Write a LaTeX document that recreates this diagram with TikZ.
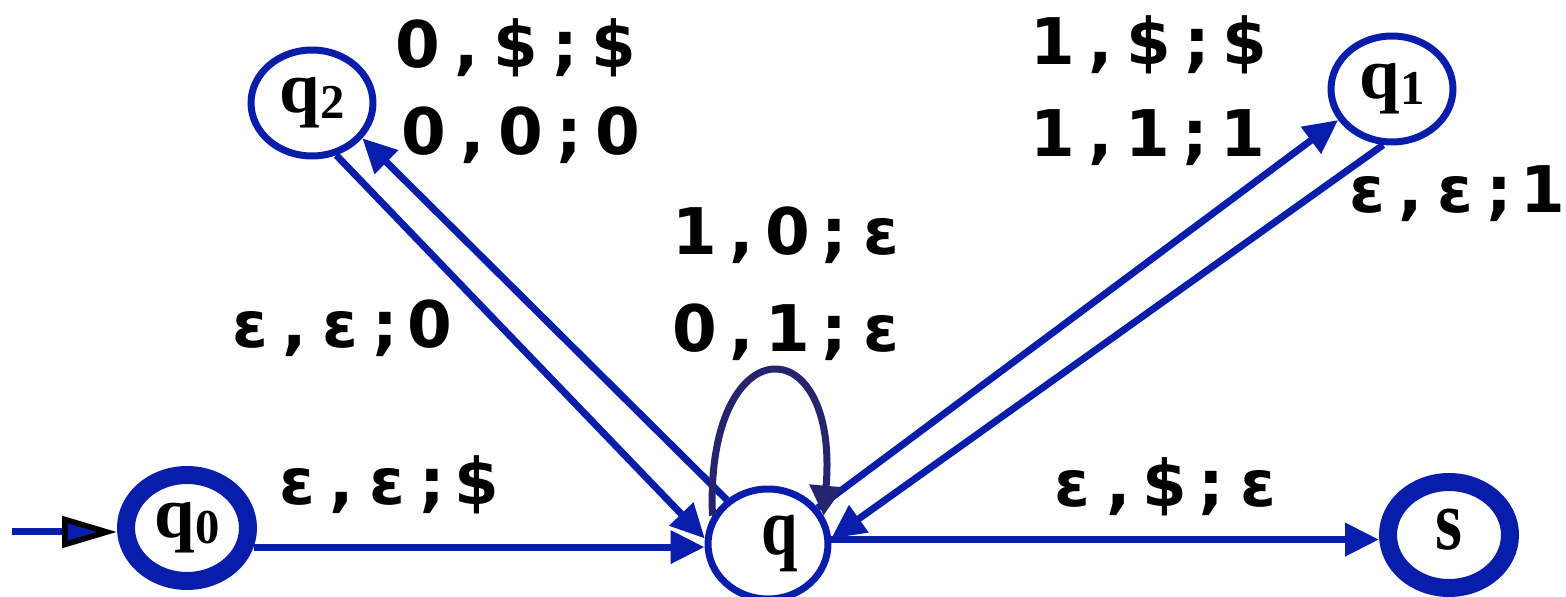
\documentclass[tikz,border=0pt]{standalone}
\usepackage{fontspec}
\usepackage{graphicx}
\usepackage{xcolor}
\setmainfont{Liberation Serif}
\newfontfamily\labfont{DejaVu Sans}
\usetikzlibrary{arrows.meta,shapes.geometric}
\definecolor{stateblue}{RGB}{8,30,170}
\definecolor{loopblue}{RGB}{38,36,110}
\newcommand\stsub[1]{\raisebox{-3.4pt}{\fontsize{27.7}{28}\selectfont #1}}
\newlength\chw
\newcommand\lbl[2][0.92cm]{\setlength\chw{#1}\lblloop#2\relax}
\def\lblloop#1{\ifx#1\relax\else\makebox[\chw]{#1}\expandafter\lblloop\fi}

\begin{document}
\begin{tikzpicture}[x=0.02cm,y=-0.02cm,
  state/.style={ellipse,draw=stateblue,line width=0.14cm,minimum width=2.44cm,minimum height=2.12cm,inner sep=0pt,font=\bfseries\fontsize{41.5}{42}\selectfont},
  bold state/.style={state,line width=0.36cm,minimum width=2.44cm,minimum height=2.12cm},
  edge/.style={draw=stateblue,line width=0.14cm,-{Triangle[length=0.68cm,width=0.64cm]}},
  lab/.style={anchor=base,inner sep=0pt,font=\labfont\bfseries\fontsize{36.6}{40}\selectfont}]
\useasboundingbox (0,0) rectangle (1566,597);

\node[bold state] (q0) at (187,528) {q\stsub{0}};
\node[state,minimum width=2.4cm,minimum height=2.2cm] (q) at (768,544) {\raisebox{-6.8pt}{\kern13.6pt\scalebox{0.9}[1.12]{q}}};
\node[state] (q2) at (312,103) {q\stsub{2}};
\node[state] (q1) at (1392,89) {q\stsub{1}};
\node[bold state] (s) at (1449,535) {\raisebox{6.8pt}{\scalebox{0.95}[1.18]{s}}};

\coordinate (start) at (12,532);
\draw[stateblue,line width=0.14cm,-{Triangle[length=1.1cm,width=0.62cm,line width=0.11cm,color=black,fill=stateblue]}] (start) -- (start -| q0.west);

\draw[edge] (q0.-16) -- (q0.-16 -| q.west);
\draw[edge] (q.4) -- (q.4 -| s.west);
\draw[edge] (q.36) -- (q1.210);
\draw[edge] (q1.261) -- (q.5);
\draw[edge] (q2.295) -- (q.175);
\draw[edge] (q.133) -- (q2.325);
\draw[loopblue,line width=0.14cm,-{Triangle[length=0.6cm,width=0.64cm]}] (q.153) .. controls (705,325) and (840,325) .. (q.27);

\node[lab] (l2a) at (516,68) {\lbl[0.98cm]{0,\$;\$}};
\node[lab] (l2b) at (521,155) {\lbl[0.97cm]{0,0;0}};
\node[lab] (l1a) at (1149,65) {\lbl[0.96cm]{1,\$;\$}};
\node[lab] (l1b) at (1148,157) {\lbl[0.95cm]{1,1;1}};
\node[lab] (l1q) at (1455,213) {\lbl[0.88cm]{ε,ε;1}};
\node[lab] (lpa) at (788,255) {\lbl[0.93cm]{1,0;ε}};
\node[lab] (lpb) at (788,352) {\lbl[0.93cm]{0,1;ε}};
\node[lab] (l2q) at (340,348) {\lbl[0.9cm]{ε,ε;0}};
\node[lab] (l0) at (387,505) {\lbl[0.9cm]{ε,ε;\$}};
\node[lab] (ls) at (1165,507) {\lbl[0.93cm]{ε,\$;ε}};
\end{tikzpicture}
\end{document}
